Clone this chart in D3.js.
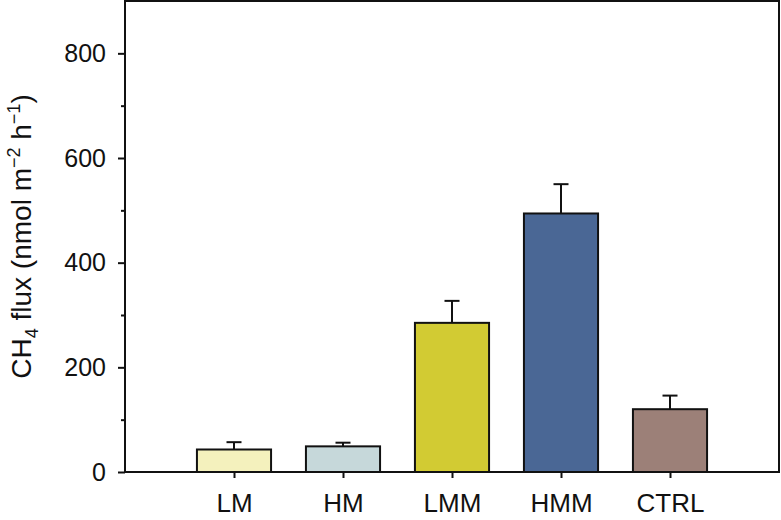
<!DOCTYPE html>
<html>
<head>
<meta charset="utf-8">
<script src="https://cdn.jsdelivr.net/npm/d3@7"></script>
<style>
  html, body { margin: 0; padding: 0; background: #fff; }
  svg { display: block; }
  text { font-family: "Liberation Sans", Arial, Helvetica, sans-serif; fill: #111; }
</style>
</head>
<body>
<svg id="chart" width="781" height="520"></svg>
<script>
const categories = ["LM", "HM", "LMM", "HMM", "CTRL"];
const means = [43, 49, 285, 494, 120];
const errors = [14, 7, 42, 56, 26];
const colors = ["#f4f1bd", "#c6d8da", "#d2cb33", "#4a6795", "#9c8078"];
const yTicks = [0, 200, 400, 600, 800];
const yMinorTicks = [100, 300, 500, 700];

const W = 781, H = 520;
const margin = { left: 125, right: 2, top: 1, bottom: 48 };
const svg = d3.select("#chart");

const x = d3.scaleLinear().domain([0, categories.length + 1]).range([margin.left, W - margin.right]);
const y = d3.scaleLinear().domain([0, 900]).range([H - margin.bottom, margin.top]);
const step = x(1) - x(0);
const barW = step * 0.68;

// bars
const g = svg.append("g");
g.selectAll("rect.bar").data(categories).join("rect")
  .attr("class", "bar")
  .attr("x", (d, i) => x(i + 1) - barW / 2)
  .attr("y", (d, i) => y(means[i]))
  .attr("width", barW)
  .attr("height", (d, i) => y(0) - y(means[i]))
  .attr("fill", (d, i) => colors[i])
  .attr("stroke", "#111")
  .attr("stroke-width", 2);

// error bars
g.selectAll("line.err").data(categories).join("line")
  .attr("class", "err")
  .attr("x1", (d, i) => x(i + 1)).attr("x2", (d, i) => x(i + 1))
  .attr("y1", (d, i) => y(means[i])).attr("y2", (d, i) => y(means[i] + errors[i]))
  .attr("stroke", "#111").attr("stroke-width", 2);
g.selectAll("line.cap").data(categories).join("line")
  .attr("class", "cap")
  .attr("x1", (d, i) => x(i + 1) - 7.5).attr("x2", (d, i) => x(i + 1) + 7.5)
  .attr("y1", (d, i) => y(means[i] + errors[i])).attr("y2", (d, i) => y(means[i] + errors[i]))
  .attr("stroke", "#111").attr("stroke-width", 2);

// frame
svg.append("rect")
  .attr("x", margin.left).attr("y", margin.top)
  .attr("width", W - margin.right - margin.left)
  .attr("height", y(0) - margin.top)
  .attr("fill", "none").attr("stroke", "#111").attr("stroke-width", 2);

// y axis
const yAxis = d3.axisLeft(y).tickValues(yTicks).tickSize(7).tickPadding(12).tickFormat(d3.format("d"));
const ya = svg.append("g").attr("transform", `translate(${margin.left},0)`).call(yAxis);
ya.select(".domain").remove();
ya.selectAll(".tick line").attr("stroke", "#111").attr("stroke-width", 2);
ya.selectAll(".tick text").attr("font-size", 25).attr("font-family", "Liberation Sans, Arial, sans-serif").attr("fill", "#111");

const yMinor = d3.axisLeft(y).tickValues(yMinorTicks).tickSize(4).tickFormat("");
const ym = svg.append("g").attr("transform", `translate(${margin.left},0)`).call(yMinor);
ym.select(".domain").remove();
ym.selectAll(".tick line").attr("stroke", "#111").attr("stroke-width", 2);

// x axis
const xAxis = d3.axisBottom(x).tickValues(categories.map((d, i) => i + 1)).tickSize(6).tickPadding(16)
  .tickFormat((d) => categories[d - 1]);
const xa = svg.append("g").attr("transform", `translate(0,${y(0)})`).call(xAxis);
xa.select(".domain").remove();
xa.selectAll(".tick line").attr("stroke", "#111").attr("stroke-width", 2);
xa.selectAll(".tick text").attr("font-size", 26).attr("font-family", "Liberation Sans, Arial, sans-serif").attr("fill", "#111");

// y label
const lab = svg.append("text")
  .attr("transform", `translate(31,${(93 + 380) / 2}) rotate(-90)`)
  .attr("text-anchor", "middle")
  .attr("font-size", 28);
lab.append("tspan").text("CH");
lab.append("tspan").attr("font-size", 18).attr("dy", 7).text("4");
lab.append("tspan").attr("dy", -7).text(" flux (nmol m");
lab.append("tspan").attr("font-size", 18).attr("dy", -11).text("−2");
lab.append("tspan").attr("dy", 11).text(" h");
lab.append("tspan").attr("font-size", 18).attr("dy", -11).text("−1");
lab.append("tspan").attr("dy", 11).text(")");
</script>
</body>
</html>
